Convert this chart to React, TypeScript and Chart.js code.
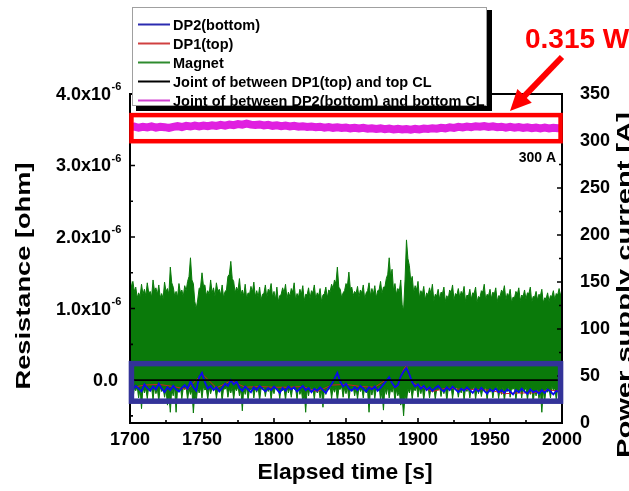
import { useEffect, useRef } from 'react';
import { Chart, registerables } from 'chart.js';

Chart.register(...registerables);

// ---------------- data ----------------
// Magnet envelope sampled every 1 s from 1700 s (resistance in 10^-6 ohm)
const MAGNET_START = 1700;
const MAGNET_STEP = 1;

const magnetUpper = [
  1.45, 1.30, 1.38, 1.24, 1.30, 1.15, 1.22, 1.17, 1.34, 1.20,
  1.27, 1.18, 1.36, 1.22, 1.24, 1.16, 1.40, 1.25, 1.29, 1.20,
  1.33, 1.15, 1.21, 1.14, 1.37, 1.24, 1.28, 1.20, 1.58, 1.36,
  1.30, 1.18, 1.24, 1.16, 1.35, 1.22, 1.26, 1.17, 1.32, 1.25,
  1.38, 1.45, 1.71, 1.40, 1.35, 1.10, 1.00, 1.12, 1.28, 1.30,
  1.50, 1.32, 1.33, 1.18, 1.25, 1.20, 1.40, 1.22, 1.29, 1.17,
  1.36, 1.24, 1.27, 1.19, 1.33, 1.15, 1.24, 1.26, 1.45, 1.48,
  1.66, 1.42, 1.38, 1.22, 1.30, 1.25, 1.42, 1.20, 1.26, 1.18,
  1.34, 1.14, 1.22, 1.20, 1.31, 1.23, 1.37, 1.17, 1.25, 1.16,
  1.30, 1.12, 1.20, 1.21, 1.33, 1.15, 1.27, 1.24, 1.35, 1.16,
  1.24, 1.13, 1.30, 1.10, 1.18, 1.20, 1.29, 1.22, 1.34, 1.14,
  1.23, 1.17, 1.28, 1.23, 1.36, 1.12, 1.21, 1.16, 1.27, 1.20,
  1.32, 1.11, 1.20, 1.19, 1.29, 1.14, 1.25, 1.22, 1.33, 1.13,
  1.22, 1.18, 1.28, 1.10, 1.19, 1.21, 1.30, 1.15, 1.26, 1.24,
  1.34, 1.28, 1.40, 1.35, 1.58, 1.30, 1.27, 1.15, 1.22, 1.25,
  1.35, 1.32, 1.51, 1.28, 1.30, 1.18, 1.24, 1.21, 1.31, 1.16,
  1.26, 1.22, 1.33, 1.13, 1.22, 1.25, 1.36, 1.18, 1.28, 1.20,
  1.32, 1.15, 1.25, 1.26, 1.38, 1.21, 1.30, 1.30, 1.42, 1.48,
  1.71, 1.45, 1.55, 1.25, 1.35, 1.20, 1.28, 1.24, 1.40, 1.05,
  0.98, 1.40, 1.96, 1.70, 1.60, 1.38, 1.45, 1.22, 1.32, 1.26,
  1.38, 1.15, 1.25, 1.20, 1.31, 1.12, 1.22, 1.19, 1.29, 1.21,
  1.34, 1.11, 1.20, 1.18, 1.27, 1.13, 1.23, 1.21, 1.30, 1.10,
  1.18, 1.14, 1.26, 1.22, 1.33, 1.12, 1.21, 1.19, 1.28, 1.15,
  1.24, 1.20, 1.31, 1.10, 1.19, 1.17, 1.27, 1.13, 1.22, 1.21,
  1.30, 1.09, 1.17, 1.15, 1.25, 1.23, 1.34, 1.12, 1.20, 1.18,
  1.27, 1.14, 1.23, 1.20, 1.29, 1.10, 1.18, 1.17, 1.26, 1.22,
  1.32, 1.12, 1.21, 1.18, 1.27, 1.08, 1.16, 1.15, 1.24, 1.20,
  1.29, 1.11, 1.19, 1.17, 1.26, 1.13, 1.22, 1.21, 1.30, 1.09,
  1.17, 1.16, 1.24, 1.12, 1.20, 1.18, 1.27, 1.08, 1.15, 1.14,
  1.22, 1.10, 1.18, 1.17, 1.25, 1.12, 1.21, 1.19, 1.28, 1.18,
  1.26,
];

const magnetLower = [
  -0.20, -0.10, -0.28, -0.11, -0.15, -0.09, -0.25, -0.12, -0.40, -0.10,
  -0.18, -0.12, -0.26, -0.09, -0.14, -0.11, -0.27, -0.10, -0.19, -0.12,
  -0.30, -0.09, -0.16, -0.11, -0.24, -0.13, -0.35, -0.20, -0.45, -0.12,
  -0.22, -0.10, -0.45, -0.13, -0.17, -0.09, -0.26, -0.11, -0.13, -0.10,
  -0.28, -0.12, -0.20, -0.14, -0.46, -0.18, -0.30, -0.10, -0.18, -0.11,
  -0.25, -0.09, -0.14, -0.12, -0.27, -0.10, -0.19, -0.11, -0.12, -0.09,
  -0.26, -0.12, -0.16, -0.10, -0.29, -0.11, -0.13, -0.09, -0.24, -0.12,
  -0.18, -0.10, -0.27, -0.11, -0.15, -0.09, -0.22, -0.13, -0.43, -0.11,
  -0.20, -0.10, -0.28, -0.12, -0.14, -0.09, -0.25, -0.11, -0.17, -0.10,
  -0.29, -0.12, -0.13, -0.09, -0.23, -0.11, -0.16, -0.10, -0.27, -0.12,
  -0.19, -0.09, -0.12, -0.11, -0.26, -0.10, -0.15, -0.12, -0.28, -0.09,
  -0.18, -0.11, -0.24, -0.10, -0.13, -0.12, -0.27, -0.09, -0.20, -0.13,
  -0.31, -0.17, -0.45, -0.12, -0.22, -0.10, -0.15, -0.11, -0.27, -0.09,
  -0.18, -0.12, -0.25, -0.14, -0.38, -0.11, -0.20, -0.10, -0.14, -0.09,
  -0.26, -0.11, -0.17, -0.10, -0.29, -0.12, -0.13, -0.09, -0.24, -0.11,
  -0.19, -0.10, -0.28, -0.12, -0.15, -0.09, -0.22, -0.11, -0.27, -0.10,
  -0.16, -0.12, -0.25, -0.09, -0.18, -0.15, -0.45, -0.11, -0.21, -0.10,
  -0.26, -0.12, -0.14, -0.09, -0.28, -0.16, -0.42, -0.11, -0.20, -0.10,
  -0.25, -0.12, -0.17, -0.09, -0.30, -0.13, -0.22, -0.15, -0.35, -0.24,
  -0.50, -0.20, -0.30, -0.12, -0.18, -0.10, -0.26, -0.11, -0.15, -0.09,
  -0.24, -0.11, -0.19, -0.10, -0.28, -0.12, -0.13, -0.09, -0.25, -0.11,
  -0.17, -0.10, -0.27, -0.12, -0.14, -0.09, -0.23, -0.11, -0.19, -0.10,
  -0.29, -0.12, -0.15, -0.09, -0.26, -0.11, -0.12, -0.10, -0.24, -0.12,
  -0.18, -0.09, -0.28, -0.11, -0.16, -0.10, -0.25, -0.12, -0.13, -0.09,
  -0.27, -0.11, -0.19, -0.10, -0.23, -0.12, -0.15, -0.09, -0.28, -0.11,
  -0.17, -0.10, -0.25, -0.12, -0.14, -0.09, -0.26, -0.11, -0.20, -0.10,
  -0.29, -0.12, -0.16, -0.09, -0.24, -0.11, -0.13, -0.10, -0.27, -0.12,
  -0.18, -0.09, -0.25, -0.11, -0.15, -0.10, -0.28, -0.12, -0.20, -0.09,
  -0.32, -0.13, -0.22, -0.11, -0.26, -0.16, -0.45, -0.14, -0.30, -0.10,
  -0.17, -0.12, -0.25, -0.09, -0.14, -0.11, -0.27, -0.10, -0.20, -0.12,
  -0.24,
];

// DP2(bottom) sampled every 2 s from 1700 s
const DP2_START = 1700;
const DP2_STEP = 2;
const dp2Bottom = [
  -0.10, -0.14, -0.08, -0.12, -0.16, -0.06, -0.11, -0.15, -0.09, -0.13,
  -0.05, -0.12, -0.17, -0.10, -0.14, -0.08, -0.13, -0.16, -0.11, -0.07,
  -0.12, -0.02, -0.10, -0.15, 0.04, 0.10, -0.03, -0.12, -0.08, -0.14,
  -0.10, -0.16, -0.11, -0.05, -0.08, 0.00, -0.06, -0.02, -0.11, -0.15,
  -0.09, -0.13, -0.17, -0.10, -0.14, -0.08, -0.12, -0.16, -0.11, -0.14,
  -0.09, -0.13, -0.18, -0.11, -0.15, -0.09, -0.13, -0.10, -0.16, -0.12,
  -0.08, -0.14, -0.11, -0.17, -0.12, -0.15, -0.10, -0.14, -0.18, -0.11,
  -0.06, 0.02, 0.10, -0.02, -0.09, -0.05, -0.12, -0.15, -0.10, -0.14,
  -0.08, -0.12, -0.16, -0.10, -0.13, -0.09, -0.15, -0.11, -0.06, -0.01,
  0.04, -0.04, -0.10, -0.07, 0.05, 0.12, 0.17, 0.08, -0.03, -0.09,
  -0.06, -0.12, -0.08, -0.14, -0.10, -0.15, -0.11, -0.08, -0.13, -0.16,
  -0.10, -0.14, -0.09, -0.13, -0.17, -0.12, -0.15, -0.10, -0.14, -0.18,
  -0.12, -0.16, -0.11, -0.15, -0.19, -0.13, -0.16, -0.12, -0.17, -0.14,
  -0.18, -0.13, -0.16, -0.20, -0.14, -0.17, -0.12, -0.16, -0.19, -0.13,
  -0.17, -0.15, -0.19, -0.14, -0.18, -0.13, -0.16, -0.20, -0.15, -0.17,
  -0.14,
];

// DP1(top), sparse samples
const dp1Times = [
  1700, 1710, 1720, 1730, 1740, 1750, 1760, 1770, 1780, 1790,
  1800, 1810, 1820, 1830, 1840, 1850, 1860, 1870, 1880, 1884,
  1886, 1888, 1890, 1892, 1894, 1896, 1900, 1910, 1920, 1930,
  1940, 1950, 1960, 1970, 1980, 1990, 2000,
];
const dp1Top = [
  -0.11, -0.07, -0.06, -0.09, -0.13, 0.09, -0.11, -0.01, -0.10, -0.09,
  -0.10, -0.10, -0.09, -0.16, -0.07, -0.06, -0.09, -0.10, 0.03, -0.11,
  -0.08, 0.04, 0.15, 0.21, 0.07, -0.04, -0.07, -0.16, -0.11, -0.13,
  -0.13, -0.14, -0.19, -0.18, -0.18, -0.14, -0.15,
];

// Joint of between DP1(top) and top CL
const jointDP1Times = [1700, 2000];
const jointDP1 = [0, 0];

// Joint of between DP2(bottom) and bottom CL, every 3 s from 1700 s
const JOINT2_START = 1700;
const JOINT2_STEP = 3;
const jointDP2 = [
  3.535, 3.545, 3.528, 3.540, 3.532, 3.548, 3.530, 3.542, 3.536, 3.525,
  3.540, 3.550, 3.538, 3.555, 3.545, 3.558, 3.547, 3.560, 3.550, 3.562,
  3.553, 3.568, 3.558, 3.572, 3.565, 3.580, 3.570, 3.585, 3.572, 3.566,
  3.574, 3.560, 3.568, 3.555, 3.562, 3.550, 3.558, 3.547, 3.555, 3.542,
  3.550, 3.538, 3.546, 3.535, 3.543, 3.530, 3.538, 3.527, 3.535, 3.524,
  3.532, 3.520, 3.528, 3.517, 3.526, 3.514, 3.522, 3.512, 3.519, 3.508,
  3.516, 3.505, 3.512, 3.503, 3.510, 3.502, 3.512, 3.505, 3.516, 3.510,
  3.522, 3.514, 3.528, 3.520, 3.534, 3.526, 3.540, 3.532, 3.545, 3.537,
  3.550, 3.542, 3.553, 3.540, 3.548, 3.535, 3.543, 3.530, 3.540, 3.528,
  3.537, 3.525, 3.535, 3.522, 3.532, 3.520, 3.530, 3.518, 3.528, 3.520,
  3.526,
];

// axes
const xTickValues = [1700, 1750, 1800, 1850, 1900, 1950, 2000];
const xMinorValues = [1725, 1775, 1825, 1875, 1925, 1975];
const leftTickValues = [0, 1, 2, 3, 4];
const leftTickMantissas = ['0.0', '1.0x10', '2.0x10', '3.0x10', '4.0x10'];
const leftTickExponents = ['', '-6', '-6', '-6', '-6'];
const leftMinorValues = [-0.5, 0.5, 1.5, 2.5, 3.5];
const rightTickValues = [0, 50, 100, 150, 200, 250, 300, 350];
const rightMinorValues = [25, 75, 125, 175, 225, 275, 325];

// legend
const legendLabels = [
  'DP2(bottom)',
  'DP1(top)',
  'Magnet',
  'Joint of between DP1(top) and top CL',
  'Joint of between DP2(bottom) and bottom CL',
];
const legendColors = ['#2b2bb0', '#d04040', '#2e8b2e', '#000000', '#d040d0'];

// highlight boxes (time s, resistance 10^-6 ohm)
const redBox = { t0: 1701, t1: 1999, r0: 3.34, r1: 3.705 };
const blueBox = { t0: 1701, t1: 1999, r0: -0.295, r1: 0.23 };

// ---------------- helpers ----------------
const FONT = 'Arial, "Liberation Sans", Helvetica, sans-serif';
const gridPoints = (vals: number[], start: number, step: number) =>
  vals.map((v, i) => ({ x: start + i * step, y: v }));
const timedPoints = (times: number[], vals: number[]) =>
  vals.map((v, i) => ({ x: times[i], y: v }));

function drawStretched(
  ctx: CanvasRenderingContext2D,
  text: string,
  cx: number,
  cy: number,
  rot: number,
  font: string,
  targetLen: number
) {
  ctx.save();
  ctx.font = font;
  const w = ctx.measureText(text).width;
  ctx.translate(cx, cy);
  ctx.rotate(rot);
  ctx.scale(targetLen / w, 1);
  ctx.textAlign = 'center';
  ctx.textBaseline = 'alphabetic';
  ctx.fillText(text, 0, 0);
  ctx.restore();
}

const overlay = {
  id: 'overlay',
  afterDraw(chart: any) {
    const { ctx, chartArea: ca, scales } = chart;
    const x = scales.x;
    const y = scales.y;
    const y2 = scales.y2;
    ctx.save();

    // frame
    ctx.strokeStyle = '#000';
    ctx.lineWidth = 2;
    ctx.strokeRect(ca.left, ca.top, ca.right - ca.left, ca.bottom - ca.top);

    // inward tick marks
    ctx.lineWidth = 1.6;
    ctx.beginPath();
    xTickValues.forEach((v) => {
      const px = x.getPixelForValue(v);
      ctx.moveTo(px, ca.bottom);
      ctx.lineTo(px, ca.bottom - 5);
    });
    xMinorValues.forEach((v) => {
      const px = x.getPixelForValue(v);
      ctx.moveTo(px, ca.bottom);
      ctx.lineTo(px, ca.bottom - 3);
    });
    leftTickValues.forEach((v) => {
      const py = y.getPixelForValue(v);
      ctx.moveTo(ca.left, py);
      ctx.lineTo(ca.left + 5, py);
    });
    leftMinorValues.forEach((v) => {
      const py = y.getPixelForValue(v);
      ctx.moveTo(ca.left, py);
      ctx.lineTo(ca.left + 3, py);
    });
    rightTickValues.forEach((v) => {
      const py = y2.getPixelForValue(v);
      ctx.moveTo(ca.right, py);
      ctx.lineTo(ca.right - 5, py);
    });
    rightMinorValues.forEach((v) => {
      const py = y2.getPixelForValue(v);
      ctx.moveTo(ca.right, py);
      ctx.lineTo(ca.right - 3, py);
    });
    ctx.stroke();

    // left tick labels with superscript exponent
    ctx.fillStyle = '#000';
    ctx.textBaseline = 'middle';
    leftTickValues.forEach((v, i) => {
      const py = y.getPixelForValue(v);
      const exp = leftTickExponents[i];
      ctx.font = `bold 18px ${FONT}`;
      ctx.textAlign = 'right';
      if (exp) {
        ctx.fillText(leftTickMantissas[i], ca.left - 19, py + 1);
        ctx.font = `bold 11px ${FONT}`;
        ctx.textAlign = 'left';
        ctx.fillText(exp, ca.left - 18.5, py - 7);
      } else {
        ctx.fillText(leftTickMantissas[i], ca.left - 12, py + 1);
      }
    });

    // highlight boxes
    ctx.strokeStyle = '#ff0000';
    ctx.lineWidth = 4.5;
    {
      const l = x.getPixelForValue(redBox.t0);
      const r = x.getPixelForValue(redBox.t1);
      const t = y.getPixelForValue(redBox.r1);
      const b = y.getPixelForValue(redBox.r0);
      ctx.strokeRect(l, t, r - l, b - t);
    }
    ctx.strokeStyle = '#333399';
    ctx.lineWidth = 5.5;
    {
      const l = x.getPixelForValue(blueBox.t0);
      const r = x.getPixelForValue(blueBox.t1);
      const t = y.getPixelForValue(blueBox.r1);
      const b = y.getPixelForValue(blueBox.r0);
      ctx.strokeRect(l, t, r - l, b - t);
    }

    // "300 A"
    ctx.fillStyle = '#000';
    ctx.font = `bold 14px ${FONT}`;
    ctx.textAlign = 'right';
    ctx.textBaseline = 'alphabetic';
    ctx.fillText('300 A', ca.right - 6, 162);

    // axis titles
    drawStretched(ctx, 'Resistance [ohm]', 30, 276, -Math.PI / 2, `bold 21px ${FONT}`, 227);
    drawStretched(ctx, 'Power supply current [A]', 631, 285, -Math.PI / 2, `bold 21px ${FONT}`, 346);
    drawStretched(ctx, 'Elapsed time [s]', 345, 479, 0, `bold 22px ${FONT}`, 175);

    // legend
    const lx = 132, ly = 7, lw = 355, lh = 99;
    ctx.fillStyle = '#000';
    ctx.fillRect(lx + 4, ly + lh, lw + 1, 5);
    ctx.fillRect(lx + lw, ly + 3, 5, lh + 2);
    ctx.fillStyle = '#fff';
    ctx.fillRect(lx, ly, lw, lh);
    ctx.strokeStyle = '#a0a0a0';
    ctx.lineWidth = 1;
    ctx.strokeRect(lx + 0.5, ly + 0.5, lw - 1, lh - 1);
    ctx.font = `bold 14.5px ${FONT}`;
    ctx.textAlign = 'left';
    ctx.textBaseline = 'middle';
    legendLabels.forEach((lab, i) => {
      const cy = 24.5 + i * 19;
      ctx.strokeStyle = legendColors[i];
      ctx.lineWidth = 2;
      ctx.beginPath();
      ctx.moveTo(138, cy);
      ctx.lineTo(170, cy);
      ctx.stroke();
      ctx.fillStyle = '#000';
      ctx.fillText(lab, 173, cy + 1);
    });

    // callout
    ctx.fillStyle = '#ff0000';
    ctx.font = `bold 28px ${FONT}`;
    ctx.textAlign = 'left';
    ctx.textBaseline = 'alphabetic';
    ctx.fillText('0.315 W', 525, 48);
    const tip = { x: 510, y: 111 };
    const tail = { x: 562, y: 57 };
    const ang = Math.atan2(tip.y - tail.y, tip.x - tail.x);
    const dx = Math.cos(ang), dy = Math.sin(ang);
    const headLen = 21, headW = 20;
    const bx = tip.x - dx * headLen, by = tip.y - dy * headLen;
    ctx.strokeStyle = '#ff0000';
    ctx.lineWidth = 6;
    ctx.beginPath();
    ctx.moveTo(tail.x, tail.y);
    ctx.lineTo(bx + dx * 2, by + dy * 2);
    ctx.stroke();
    ctx.beginPath();
    ctx.moveTo(tip.x, tip.y);
    ctx.lineTo(bx - dy * headW / 2, by + dx * headW / 2);
    ctx.lineTo(bx + dy * headW / 2, by - dx * headW / 2);
    ctx.closePath();
    ctx.fill();

    ctx.restore();
  },
};

export default function App() {
  const ref = useRef<HTMLCanvasElement>(null);

  useEffect(() => {
    const green = '#0a7a0a';
    const chart = new Chart(ref.current as HTMLCanvasElement, {
      type: 'line',
      data: {
        datasets: [
          {
            label: legendLabels[4],
            data: gridPoints(jointDP2, JOINT2_START, JOINT2_STEP),
            borderColor: '#e020e0',
            borderWidth: 8,
            pointRadius: 0,
            fill: false,
            clip: 0,
            order: 0,
          },
          {
            label: legendLabels[3],
            data: timedPoints(jointDP1Times, jointDP1),
            borderColor: '#000000',
            borderWidth: 1.6,
            pointRadius: 0,
            fill: false,
            clip: 0,
            order: 1,
          },
          {
            label: legendLabels[0],
            data: gridPoints(dp2Bottom, DP2_START, DP2_STEP),
            borderColor: '#0a0aee',
            borderWidth: 1.8,
            pointRadius: 0,
            fill: false,
            clip: 0,
            order: 2,
          },
          {
            label: legendLabels[1],
            data: timedPoints(dp1Times, dp1Top),
            borderColor: '#cc2020',
            borderWidth: 1,
            pointRadius: 0,
            fill: false,
            clip: 0,
            order: 3,
          },
          {
            label: legendLabels[2],
            data: gridPoints(magnetUpper, MAGNET_START, MAGNET_STEP),
            borderColor: green,
            backgroundColor: green,
            borderWidth: 1,
            pointRadius: 0,
            fill: '+1',
            clip: 0,
            order: 4,
          },
          {
            label: 'Magnet (lower)',
            data: gridPoints(magnetLower, MAGNET_START, MAGNET_STEP),
            borderColor: green,
            borderWidth: 1,
            pointRadius: 0,
            fill: false,
            clip: 0,
            order: 5,
          },
        ],
      },
      options: {
        responsive: false,
        maintainAspectRatio: false,
        animation: false,
        devicePixelRatio: 1,
        events: [],
        layout: { padding: { top: 94, left: 0, right: 0, bottom: 0 } },
        plugins: {
          legend: { display: false },
          tooltip: { enabled: false },
          title: { display: false },
        },
        scales: {
          x: {
            type: 'linear',
            position: 'bottom',
            min: 1700,
            max: 2000,
            grid: { display: false },
            border: { display: false },
            afterBuildTicks: (s: any) => {
              s.ticks = xTickValues.map((v) => ({ value: v }));
            },
            afterFit: (s: any) => {
              s.height = 68;
            },
            ticks: {
              autoSkip: false,
              maxRotation: 0,
              padding: 0,
              color: '#000',
              font: { family: FONT, size: 18, weight: 'bold', lineHeight: 1 },
              callback: (v: any) => String(v),
            },
          },
          y: {
            type: 'linear',
            position: 'left',
            min: -0.6,
            max: 4.0,
            grid: { display: false },
            border: { display: false },
            ticks: { display: false },
            afterFit: (s: any) => {
              s.width = 130;
            },
          },
          y2: {
            type: 'linear',
            position: 'right',
            min: 0,
            max: 350,
            grid: { display: false },
            border: { display: false },
            afterBuildTicks: (s: any) => {
              s.ticks = rightTickValues.map((v) => ({ value: v }));
            },
            afterFit: (s: any) => {
              s.width = 67;
            },
            ticks: {
              autoSkip: false,
              padding: 10,
              color: '#000',
              font: { family: FONT, size: 18, weight: 'bold', lineHeight: 1 },
              callback: (v: any) => String(v),
            },
          },
        },
      } as any,
      plugins: [overlay],
    });
    return () => chart.destroy();
  }, []);

  return (
    <div
      style={{
        position: 'fixed',
        left: 0,
        top: 0,
        width: 629,
        height: 491,
        background: '#fff',
      }}
    >
      <canvas
        ref={ref}
        width={629}
        height={491}
        style={{ display: 'block', width: 629, height: 491 }}
      />
    </div>
  );
}
